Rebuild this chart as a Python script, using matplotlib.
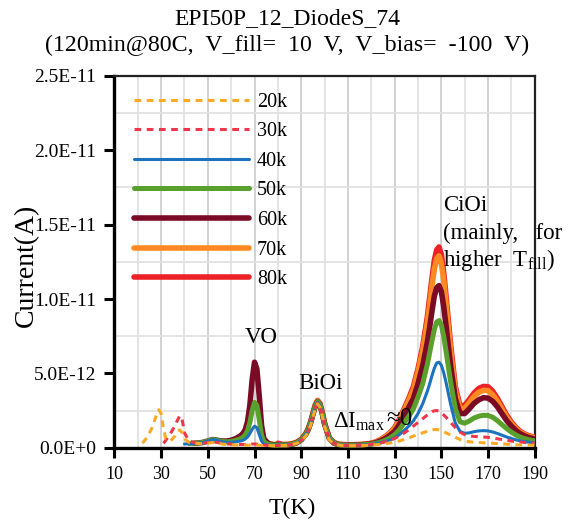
import numpy as np
import matplotlib
matplotlib.use('Agg')
import matplotlib.pyplot as plt
from matplotlib.ticker import FixedLocator

plt.rcParams['font.family'] = ['Liberation Serif', 'DejaVu Serif']
plt.rcParams['mathtext.fontset'] = 'custom'
plt.rcParams['mathtext.rm'] = 'Liberation Serif'
plt.rcParams['mathtext.default'] = 'regular'

nan = np.nan

# temperature grid (K), denser around the peaks
temp = [20, 22, 24, 26, 27, 28, 29, 30, 31, 32, 34, 36, 37, 38, 39, 40,
        42, 44, 46, 48, 50, 52, 54, 56, 58, 60, 62, 64,
        65, 66, 67, 68, 69, 70, 71, 72, 73, 74,
        76, 78, 80, 82, 84, 86, 88, 90, 92,
        93, 94, 95, 96, 97, 98, 99, 100,
        102, 104, 106, 108, 110, 112, 114, 116, 118, 120, 122,
        124, 126, 128, 130, 132, 134, 136, 138, 140, 142, 144,
        145, 146, 147, 148, 149, 150, 151, 152,
        154, 156, 158, 160, 162, 164, 166, 168, 170, 172,
        174, 176, 178, 180, 182, 184, 186, 188, 190]

# current in units of 1e-12 A
i_20k = [nan, 0.3, 0.7, 1.3, 1.75, 2.2, 2.55, 2.3, 1.3, 0.6, 0.45, 0.8, 1.1, 1.2, 1.0, 0.6,
         0.35, 0.3, 0.28, 0.26, 0.3, 0.35, 0.3, 0.25, 0.22, 0.2, 0.18, 0.18,
         0.18, 0.17, 0.17, 0.18, 0.18, 0.18, 0.17, 0.16, 0.15, 0.15,
         0.14, 0.14, 0.15, 0.15, 0.16, 0.2, 0.3, 0.45, 0.8,
         1.1, 1.5, 2.05, 2.65, 2.95, 2.75, 2.15, 1.45,
         0.55, 0.25, 0.18, 0.15, 0.14, 0.14, 0.15, 0.15, 0.16, 0.18, 0.2,
         0.23, 0.27, 0.32, 0.38, 0.45, 0.55, 0.65, 0.78, 0.9, 1.0, 1.1,
         1.15, 1.2, 1.22, 1.22, 1.2, 1.15, 1.08, 1.0,
         0.85, 0.7, 0.55, 0.45, 0.4, 0.37, 0.35, 0.33, 0.32, 0.3,
         0.28, 0.26, 0.24, 0.22, 0.2, 0.19, 0.18, 0.17, 0.16]

i_30k = [nan, nan, nan, nan, nan, nan, nan, nan, 0.3, 0.5, 0.95, 1.5, 1.85, 2.15, 1.9, 1.0,
         0.45, 0.35, 0.3, 0.3, 0.35, 0.4, 0.35, 0.3, 0.26, 0.24, 0.22, 0.22,
         0.22, 0.22, 0.23, 0.24, 0.25, 0.25, 0.24, 0.22, 0.2, 0.18,
         0.16, 0.15, 0.15, 0.16, 0.17, 0.22, 0.32, 0.5, 0.85,
         1.15, 1.6, 2.15, 2.7, 3.0, 2.8, 2.2, 1.5,
         0.6, 0.28, 0.2, 0.17, 0.16, 0.16, 0.17, 0.18, 0.2, 0.23, 0.27,
         0.33, 0.4, 0.5, 0.62, 0.78, 0.98, 1.2, 1.45, 1.7, 1.95, 2.2,
         2.32, 2.42, 2.48, 2.5, 2.45, 2.35, 2.2, 2.05,
         1.7, 1.35, 1.05, 0.88, 0.8, 0.76, 0.74, 0.72, 0.7, 0.66,
         0.6, 0.55, 0.5, 0.45, 0.41, 0.38, 0.35, 0.33, 0.31]

i_40k = [nan, nan, nan, nan, nan, nan, nan, nan, nan, nan, nan, nan, nan, nan, nan, 0.25,
         0.27, 0.28, 0.3, 0.35, 0.45, 0.55, 0.5, 0.4, 0.36, 0.36, 0.4, 0.45,
         0.5, 0.58, 0.72, 0.95, 1.25, 1.45, 1.35, 0.9, 0.45, 0.25,
         0.18, 0.16, 0.16, 0.17, 0.18, 0.22, 0.32, 0.52, 0.9,
         1.2, 1.65, 2.2, 2.75, 3.05, 2.85, 2.25, 1.55,
         0.62, 0.3, 0.2, 0.17, 0.16, 0.16, 0.17, 0.18, 0.2, 0.23, 0.28,
         0.34, 0.42, 0.52, 0.66, 0.88, 1.15, 1.45, 1.8, 2.3, 2.95, 3.8,
         4.3, 4.85, 5.35, 5.7, 5.75, 5.55, 5.05, 4.4,
         2.9, 1.65, 1.1, 0.97, 1.0, 1.08, 1.13, 1.15, 1.13, 1.06,
         0.96, 0.84, 0.72, 0.62, 0.53, 0.45, 0.4, 0.36, 0.32]

i_50k = [nan, nan, nan, nan, nan, nan, nan, nan, nan, nan, nan, nan, nan, nan, nan, nan,
         0.28, 0.3, 0.32, 0.36, 0.45, 0.55, 0.5, 0.42, 0.4, 0.42, 0.5, 0.6,
         0.7, 0.85, 1.15, 1.7, 2.5, 3.05, 2.85, 1.9, 0.85, 0.4,
         0.22, 0.18, 0.17, 0.18, 0.19, 0.23, 0.33, 0.53, 0.92,
         1.22, 1.68, 2.25, 2.8, 3.1, 2.9, 2.3, 1.6,
         0.64, 0.31, 0.21, 0.18, 0.17, 0.17, 0.18, 0.19, 0.21, 0.25, 0.3,
         0.38, 0.5, 0.66, 0.88, 1.2, 1.65, 2.1, 2.6, 3.4, 4.3, 5.6,
         6.4, 7.2, 7.95, 8.45, 8.55, 8.25, 7.5, 6.5,
         4.4, 2.6, 1.75, 1.65, 1.8, 2.0, 2.12, 2.18, 2.17, 2.05,
         1.82, 1.55, 1.28, 1.05, 0.85, 0.7, 0.6, 0.52, 0.46]

i_60k = [nan, nan, nan, nan, nan, nan, nan, nan, nan, nan, nan, nan, nan, nan, nan, nan,
         nan, 0.3, 0.32, 0.36, 0.45, 0.55, 0.5, 0.45, 0.45, 0.5, 0.62, 0.8,
         0.95, 1.2, 1.75, 2.85, 4.6, 5.75, 5.3, 3.5, 1.5, 0.6,
         0.26, 0.2, 0.18, 0.18, 0.19, 0.23, 0.33, 0.53, 0.92,
         1.22, 1.68, 2.25, 2.8, 3.1, 2.9, 2.3, 1.6,
         0.64, 0.31, 0.21, 0.18, 0.18, 0.18, 0.19, 0.2, 0.23, 0.27, 0.34,
         0.46, 0.62, 0.83, 1.1, 1.55, 2.1, 2.7, 3.3, 4.3, 5.5, 7.1,
         8.1, 9.2, 10.2, 10.75, 10.9, 10.5, 9.5, 8.2,
         5.5, 3.3, 2.3, 2.3, 2.62, 2.98, 3.22, 3.36, 3.34, 3.12,
         2.75, 2.28, 1.82, 1.45, 1.15, 0.92, 0.77, 0.66, 0.58]

i_70k = [nan, nan, nan, nan, nan, nan, nan, nan, nan, nan, nan, nan, nan, nan, nan, nan,
         nan, nan, nan, nan, nan, nan, nan, nan, nan, nan, nan, nan,
         nan, nan, nan, nan, nan, nan, nan, nan, nan, nan,
         0.3, 0.22, 0.2, 0.2, 0.21, 0.25, 0.35, 0.55, 0.95,
         1.25, 1.7, 2.28, 2.85, 3.15, 2.95, 2.35, 1.62,
         0.66, 0.33, 0.23, 0.2, 0.19, 0.19, 0.2, 0.21, 0.24, 0.29, 0.38,
         0.52, 0.72, 0.96, 1.3, 1.8, 2.5, 3.15, 3.9, 5.1, 6.5, 8.4,
         9.6, 10.9, 12.0, 12.7, 12.9, 12.4, 11.3, 9.7,
         6.5, 3.85, 2.6, 2.65, 3.05, 3.45, 3.72, 3.86, 3.84, 3.56,
         3.12, 2.58, 2.05, 1.62, 1.28, 1.02, 0.86, 0.75, 0.66]

i_80k = [nan, nan, nan, nan, nan, nan, nan, nan, nan, nan, nan, nan, nan, nan, nan, nan,
         nan, nan, nan, nan, nan, nan, nan, nan, nan, nan, nan, nan,
         nan, nan, nan, nan, nan, nan, nan, nan, nan, nan,
         nan, nan, 0.3, 0.22, 0.22, 0.26, 0.36, 0.56, 0.96,
         1.27, 1.72, 2.3, 2.88, 3.18, 2.98, 2.38, 1.64,
         0.67, 0.34, 0.24, 0.21, 0.2, 0.2, 0.21, 0.22, 0.25, 0.3, 0.4,
         0.55, 0.75, 1.0, 1.35, 1.9, 2.6, 3.3, 4.1, 5.3, 6.8, 8.8,
         10.1, 11.4, 12.6, 13.3, 13.5, 13.0, 11.8, 10.2,
         6.9, 4.1, 2.8, 2.85, 3.25, 3.68, 3.98, 4.12, 4.1, 3.8,
         3.32, 2.75, 2.18, 1.72, 1.35, 1.08, 0.9, 0.78, 0.7]

labels = ['20k', '30k', '40k', '50k', '60k', '70k', '80k']
series = [i_20k, i_30k, i_40k, i_50k, i_60k, i_70k, i_80k]
colors = ['#FBAA26', '#F0364A', '#1B72BE', '#5AA02C', '#7A0A26', '#FF8A22', '#EC2228']
widths = [2.2, 2.2, 2.2, 3.6, 4.0, 4.0, 4.0]
styles = ['--', '--', '-', '-', '-', '-', '-']

yticks = [0, 5e-12, 1e-11, 1.5e-11, 2e-11, 2.5e-11]
ytick_labels = ['0.0E+0', '5.0E-12', '1.0E-11', '1.5E-11', '2.0E-11', '2.5E-11']
xticks = list(range(10, 191, 20))

fig = plt.figure(figsize=(5.75, 5.2), dpi=100)
ax = fig.add_axes([0.199, 0.139, 0.731, 0.715])

handles = {}
for k in reversed(range(len(series))):
    y = np.array(series[k]) * 1e-12
    line, = ax.plot(temp, y, color=colors[k], lw=widths[k], ls=styles[k],
                    solid_capstyle='round', label=labels[k], zorder=3)
    if styles[k] == '--':
        line.set_dashes((2.2, 1.8))
    handles[labels[k]] = line

leg = ax.legend([handles[l] for l in labels], labels, loc='upper left',
                bbox_to_anchor=(0.047, 0.955), frameon=False, fontsize=14.5,
                handlelength=5.7, handletextpad=0.4, labelspacing=0.52,
                borderpad=0, borderaxespad=0)

ax.set_xlim(10, 190)
ax.set_ylim(0, 2.5e-11)
ax.set_xticks(xticks)
ax.set_xticklabels([str(t) for t in xticks])
ax.set_yticks(yticks)
ax.set_yticklabels(ytick_labels)
ax.xaxis.set_minor_locator(FixedLocator(list(range(20, 190, 20))))
ax.yaxis.set_minor_locator(FixedLocator([2.5e-12, 7.5e-12, 1.25e-11, 1.75e-11, 2.25e-11]))
ax.grid(True, which='major', axis='x', color='#CFCFCF', lw=1.3, zorder=0)
ax.grid(True, which='minor', axis='x', color='#E2E2E2', lw=1.3, zorder=0)
ax.grid(True, which='minor', axis='y', color='#E2E2E2', lw=1.3, zorder=0)
ax.tick_params(which='minor', length=0)
ax.tick_params(which='major', direction='out', length=7, width=2.2, pad=6)
ax.tick_params(axis='x', labelsize=13)
ax.tick_params(axis='y', labelsize=14)
ax.set_axisbelow(True)

for s in ['left', 'bottom']:
    ax.spines[s].set_linewidth(2.4)
for s in ['top', 'right']:
    ax.spines[s].set_linewidth(1.6)
    ax.spines[s].set_color('#222222')

ax.set_xlabel('T(K)', fontsize=17)
ax.xaxis.set_label_coords(0.424, -0.135)
ax.set_ylabel('Current(A)', fontsize=20)
ax.yaxis.set_label_coords(-0.18, 0.49)

fig.text(0.5, 0.965, 'EPI50P_12_DiodeS_74', ha='center', va='center', fontsize=17)
fig.text(0.5, 0.913, '(120min@80C,  V_fill=  10  V,  V_bias=  -100  V)',
         ha='center', va='center', fontsize=17.2)

ax.text(73, 7.4e-12, 'VO', ha='center', va='center', fontsize=16.5)
ax.text(98.4, 4.3e-12, 'BiOi', ha='center', va='center', fontsize=16.5)
ax.text(103.5, 1.75e-12, r'$\Delta I_{max}$', ha='left', va='center', fontsize=16.5)
ax.text(126.5, 1.9e-12, '≈0', ha='left', va='center', fontsize=18)
ax.text(150.6, 16.3e-12, 'CiOi', ha='left', va='center', fontsize=16.5)
ax.text(150.6, 14.4e-12, '(mainly,   for', ha='left', va='center', fontsize=16.5, clip_on=False)
ax.text(150.6, 12.6e-12, r'higher  $T_{fill}$)', ha='left', va='center', fontsize=16.5)

plt.savefig('out.png', dpi=100)
